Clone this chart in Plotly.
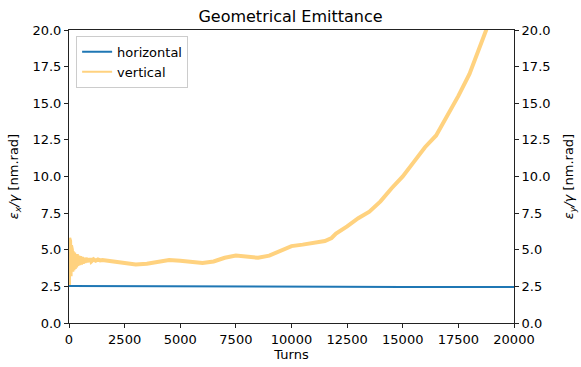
import plotly.graph_objects as go

# Horizontal emittance (turns, value)
h_turns = [0, 3000, 6000, 9000, 11900, 12050, 15000, 17500, 20000]
h_vals = [2.52, 2.52, 2.51, 2.51, 2.50, 2.47, 2.46, 2.46, 2.45]

# Vertical emittance (turns, value)
v_turns = [0, 10, 30, 50, 70, 90, 110, 130, 150, 170, 200, 230, 260, 290, 320,
           350, 380, 420, 460, 500, 540, 580, 620, 660, 700, 750, 800, 850, 900,
           950, 1000, 1100, 1200, 1300, 1400, 1500, 2000, 2500, 3000, 3500, 4000,
           4500, 5000, 5500, 6000, 6500, 7000, 7500, 8000, 8500, 9000, 9500,
           10000, 10500, 11000, 11500, 11800, 12000, 12500, 13000, 13500, 14000,
           14500, 15000, 15500, 16000, 16500, 17000, 17500, 18000, 18500, 18800,
           19000, 20000]
v_vals = [2.6, 5.8, 3.3, 5.6, 3.2, 5.3, 3.3, 5.0, 3.5, 4.9, 3.6, 4.8, 3.7, 4.7,
          3.8, 4.7, 3.9, 4.6, 3.95, 4.55, 4.0, 4.5, 4.05, 4.45, 4.1, 4.45, 4.15,
          4.4, 4.2, 4.4, 4.2, 4.35, 4.25, 4.33, 4.27, 4.3, 4.2, 4.1, 4.0, 4.05,
          4.2, 4.3, 4.25, 4.15, 4.1, 4.2, 4.45, 4.6, 4.55, 4.45, 4.6, 4.95, 5.25,
          5.35, 5.5, 5.6, 5.8, 6.1, 6.6, 7.15, 7.6, 8.3, 9.2, 10.0, 11.0, 12.0,
          12.8, 14.1, 15.5, 17.0, 19.0, 20.2, 21.0, 25.0]

y_ticks = [0, 2.5, 5, 7.5, 10, 12.5, 15, 17.5, 20]
x_ticks = [0, 2500, 5000, 7500, 10000, 12500, 15000, 17500, 20000]
x_ticklabels = [str(v) for v in x_ticks]

FONT = "DejaVu Sans"
AX = "#222222"
BLUE = "#1f77b4"
YEL = "#FFD27F"
FS = 13

fig = go.Figure()
fig.add_trace(go.Scatter(x=h_turns, y=h_vals, mode="lines", name="horizontal",
                         line=dict(color=BLUE, width=2), yaxis="y",
                         showlegend=False))
fig.add_trace(go.Scatter(x=v_turns, y=v_vals, mode="lines", name="vertical",
                         line=dict(color=YEL, width=4), yaxis="y2",
                         showlegend=False))
# legend entries (thin lines as in the reference legend)
fig.add_trace(go.Scatter(x=[None], y=[None], mode="lines", name="horizontal",
                         line=dict(color=BLUE, width=2), yaxis="y"))
fig.add_trace(go.Scatter(x=[None], y=[None], mode="lines", name="vertical",
                         line=dict(color=YEL, width=2), yaxis="y"))

common_y = dict(range=[0, 20], tickvals=y_ticks, tickformat=".1f",
                showgrid=False, zeroline=False, showline=True, linecolor=AX,
                linewidth=1, ticks="outside", ticklen=4, tickcolor=AX,
                automargin=False,
                tickfont=dict(size=FS, color="#000"))

fig.update_layout(
    width=581, height=367,
    margin=dict(l=69, r=67, t=30, b=44, autoexpand=False),
    paper_bgcolor="white", plot_bgcolor="white",
    font=dict(family=FONT, color="#000"),
    title=dict(text="Geometrical Emittance", x=0.5, xanchor="center",
               y=1 - 16 / 367, yanchor="middle", font=dict(size=16),
               automargin=False),
    xaxis=dict(range=[0, 20000], tickvals=x_ticks, ticktext=x_ticklabels,
               showgrid=False, automargin=False,
               zeroline=False, showline=True, mirror=True, linecolor=AX,
               linewidth=1, ticks="outside", ticklen=4, tickcolor=AX,
               tickfont=dict(size=FS),
               title=dict(text="Turns", font=dict(size=FS), standoff=4)),
    yaxis=dict(**common_y, side="left",
               title=dict(text="<i>ε<sub>x</sub>/γ</i> [nm.rad]",
                          font=dict(size=FS), standoff=10)),
    yaxis2=dict(**common_y, side="right", overlaying="y",
                title=dict(text="<i>ε<sub>y</sub>/γ</i> [nm.rad]",
                           font=dict(size=FS), standoff=14)),
    legend=dict(x=0.016, y=0.98, xanchor="left", yanchor="top",
                bgcolor="white", bordercolor="#cccccc", borderwidth=1,
                font=dict(size=FS), itemwidth=30, tracegroupgap=0),
    showlegend=True,
)

fig.write_html("out.html")
